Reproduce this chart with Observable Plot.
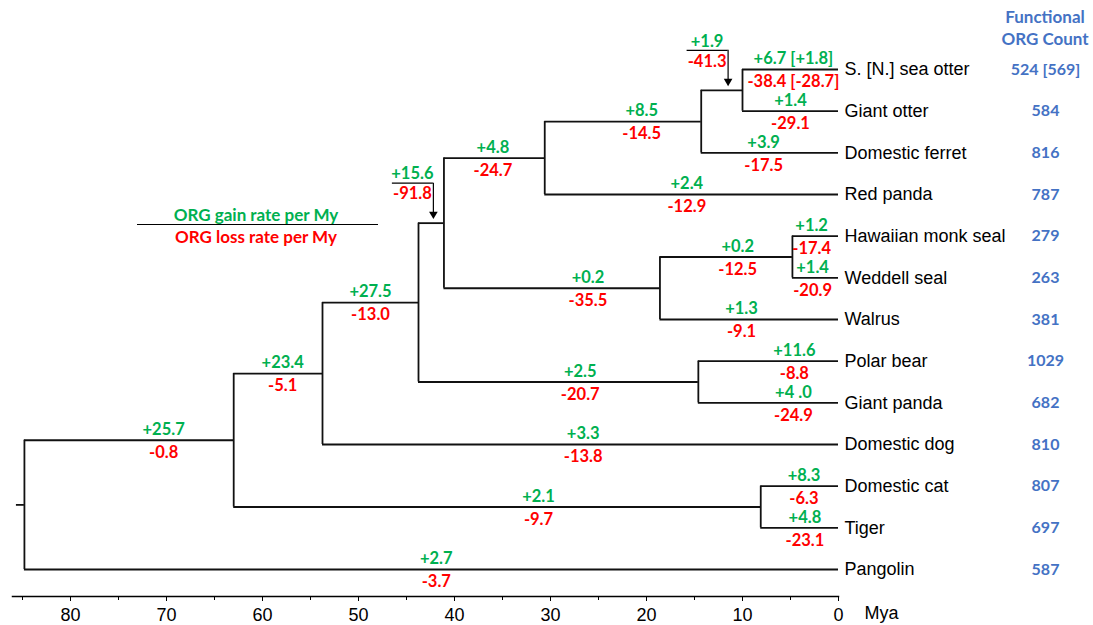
<!DOCTYPE html>
<html><head><meta charset="utf-8">
<script src="https://cdn.jsdelivr.net/npm/d3@7"></script>
<script src="https://cdn.jsdelivr.net/npm/@observablehq/plot@0.6"></script>
<style>
body{margin:0;background:#fff}
#wrap{position:relative;width:1093px;height:625px;overflow:hidden}
.ov{position:absolute;transform:translate(-50%,-50%);white-space:nowrap;font-family:Lato,"Open Sans",sans-serif;font-weight:bold}
</style></head><body><div id="wrap"></div>
<script>
// ---- data ----
const leaves = ["S. [N.] sea otter","Giant otter","Domestic ferret","Red panda","Hawaiian monk seal","Weddell seal","Walrus","Polar bear","Giant panda","Domestic dog","Domestic cat","Tiger","Pangolin"];
const counts = ["524 [569]","584","816","787","279","263","381","1029","682","810","807","697","587"];
const nodeNames = ["Lutrinae","Mustelidae","Musteloidea","Phocidae","Pinnipedia","Musteloidea+Pinnipedia","Ursidae","Arctoidea","Caniformia","Felidae","Carnivora","Root"];
const nodeAges = [10.0,14.3,30.6,4.8,18.6,41.1,14.6,43.75,53.75,8.1,63.0,84.8];
const nodeChildren = [["S. [N.] sea otter","Giant otter"],["Lutrinae","Domestic ferret"],["Mustelidae","Red panda"],["Hawaiian monk seal","Weddell seal"],["Phocidae","Walrus"],["Musteloidea","Pinnipedia"],["Polar bear","Giant panda"],["Musteloidea+Pinnipedia","Ursidae"],["Arctoidea","Domestic dog"],["Domestic cat","Tiger"],["Caniformia","Felidae"],["Carnivora","Pangolin"]];
const branchNames = ["S. [N.] sea otter","Giant otter","Lutrinae","Domestic ferret","Mustelidae","Red panda","Musteloidea","Hawaiian monk seal","Weddell seal","Phocidae","Walrus","Pinnipedia","Musteloidea+Pinnipedia","Polar bear","Giant panda","Ursidae","Arctoidea","Domestic dog","Caniformia","Domestic cat","Tiger","Felidae","Carnivora","Pangolin"];
const gainRates = ["+6.7 [+1.8]","+1.4","+1.9","+3.9","+8.5","+2.4","+4.8","+1.2","+1.4","+0.2","+1.3","+0.2","+15.6","+11.6","+4 .0","+2.5","+27.5","+3.3","+23.4","+8.3","+4.8","+2.1","+25.7","+2.7"];
const lossRates = ["-38.4 [-28.7]","-29.1","-41.3","-17.5","-14.5","-12.9","-24.7","-17.4","-20.9","-12.5","-9.1","-35.5","-91.8","-8.8","-24.9","-20.7","-13.0","-13.8","-5.1","-6.3","-23.1","-9.7","-0.8","-3.7"];
const labelMya = [4.7,5.0,11.5,7.8,20.5,15.8,36.0,2.8,2.7,10.5,10.1,26.1,42.2,4.6,4.7,26.9,48.75,26.6,57.9,3.6,3.5,31.25,70.3,41.9];
const calloutBranches = ["Lutrinae","Musteloidea+Pinnipedia"];
const xTicks = [80,70,60,50,40,30,20,10,0];
const xMinorTicks = [85,75,65,55,45,35,25,15,5];

// ---- layout constants ----
const X_DOMAIN = [80, 0], X_RANGE = [70, 838];
const Y_DOMAIN = [0, leaves.length - 1], Y_RANGE = [69, 569];
const pxPerMy = (X_RANGE[1] - X_RANGE[0]) / (X_DOMAIN[0] - X_DOMAIN[1]);
const pxPerRow = (Y_RANGE[1] - Y_RANGE[0]) / (Y_DOMAIN[1] - Y_DOMAIN[0]);
const GREEN = "#00B050", RED = "#FF0000", BLUE = "#4472C4";
const numFont = "Lato, 'Open Sans', sans-serif";
const nameFont = "'Liberation Sans', Arial, sans-serif";
const NUM_SIZE = 16.5;

// ---- build tree geometry from data ----
const pos = new Map();
leaves.forEach((n, i) => pos.set(n, {age: 0, row: i}));
nodeNames.forEach((n, i) => {
  const [a, b] = nodeChildren[i];
  pos.set(n, {age: nodeAges[i], row: (pos.get(a).row + pos.get(b).row) / 2});
});
const horiz = [], vert = [];
nodeNames.forEach((n, i) => {
  const p = pos.get(n);
  const [a, b] = nodeChildren[i];
  for (const c of [a, b]) { const q = pos.get(c); horiz.push({x1: p.age, x2: q.age, y: q.row}); }
  vert.push({x: p.age, y1: pos.get(a).row, y2: pos.get(b).row});
});
const root = pos.get("Root");
const leafData = leaves.map((n, i) => ({name: n, row: i, count: counts[i]}));
const labels = branchNames.map((b, i) => ({name: b, row: pos.get(b).row, at: labelMya[i], gain: gainRates[i], loss: lossRates[i], callout: calloutBranches.includes(b)}));
const normal = labels.filter(d => !d.callout);
const callouts = labels.filter(d => d.callout);

const lineColor = "#111", lw = 1.8;
const numText = {fontWeight: "bold", fontSize: NUM_SIZE, fontFamily: numFont};
const chart = Plot.plot({
  width: 1093, height: 625,
  marginLeft: 12, marginRight: 1093 - 838, marginTop: 0, marginBottom: 29,
  x: {domain: X_DOMAIN, range: X_RANGE},
  y: {domain: Y_DOMAIN, range: Y_RANGE, axis: null},
  style: {background: "#fff", color: "#000", overflow: "visible"},
  marks: [
    Plot.frame({anchor: "bottom", stroke: "#000", strokeWidth: 1.5}),
    Plot.axisX(xMinorTicks, {anchor: "bottom", tickSize: 4, tickFormat: () => "", label: null}),
    Plot.axisX(xTicks, {anchor: "bottom", tickSize: 5, tickPadding: 7, fontSize: 18, fontFamily: nameFont, label: null, tickFormat: d => String(d)}),
    Plot.text(["Mya"], {frameAnchor: "bottom-right", textAnchor: "middle", lineAnchor: "middle", dx: 43, dy: 17, fontSize: 18, fontFamily: nameFont, fill: "#000"}),
    // tree
    Plot.ruleY(horiz, {y: "y", x1: "x1", x2: "x2", stroke: lineColor, strokeWidth: lw}),
    Plot.ruleX(vert, {x: "x", y1: "y1", y2: "y2", stroke: lineColor, strokeWidth: lw}),
    Plot.ruleY([root], {y: "row", x1: d => d.age + 8 / pxPerMy, x2: "age", stroke: lineColor, strokeWidth: lw}),
    // branch labels
    Plot.text(normal, {x: "at", y: "row", text: "gain", dy: -10.5, fill: GREEN, ...numText}),
    Plot.text(normal, {x: "at", y: "row", text: "loss", dy: 12.5, fill: RED, ...numText}),
    // callouts
    Plot.ruleY(callouts, {y: d => d.row - 40 / pxPerRow, x1: d => d.at + 41 / pxPerMy, x2: "at", stroke: "#000", strokeWidth: 1.2}),
    Plot.ruleX(callouts, {x: "at", y1: d => d.row - 40 / pxPerRow, y2: d => d.row - 10 / pxPerRow, stroke: "#000", strokeWidth: 1.2}),
    Plot.dot(callouts, {x: "at", y: d => d.row - 9 / pxPerRow, symbol: "triangle", rotate: 180, r: 3.2, fill: "#000", stroke: null}),
    Plot.text(callouts, {x: "at", y: "row", text: "gain", dx: -21, dy: -49, fill: GREEN, ...numText}),
    Plot.text(callouts, {x: "at", y: "row", text: "loss", dx: -21, dy: -29, fill: RED, ...numText}),
    // leaf names and counts
    Plot.text(leafData, {x: 0, y: "row", text: "name", textAnchor: "start", dx: 6, fontSize: 18, fontFamily: nameFont, fill: "#000"}),
    Plot.text(leafData, {x: 0, y: "row", text: "count", dx: 207, fontSize: 16, fontWeight: "bold", fontFamily: numFont, fill: BLUE})
  ]
});
const wrap = document.getElementById("wrap");
wrap.appendChild(chart);

function ov(text, x, y, color, size) {
  const d = document.createElement("div");
  d.className = "ov"; d.textContent = text;
  d.style.left = x + "px"; d.style.top = y + "px"; d.style.color = color; d.style.fontSize = size + "px";
  wrap.appendChild(d);
  return d;
}
ov("Functional", 1045, 16, BLUE, 17);
ov("ORG Count", 1045, 38, BLUE, 17);
ov("ORG gain rate per My", 256, 214, GREEN, 17);
ov("ORG loss rate per My", 256, 236, RED, 17);
const ln = document.createElement("div");
ln.style.cssText = "position:absolute;left:137px;top:224px;width:241px;height:0;border-top:1.3px solid #000";
wrap.appendChild(ln);
</script></body></html>
